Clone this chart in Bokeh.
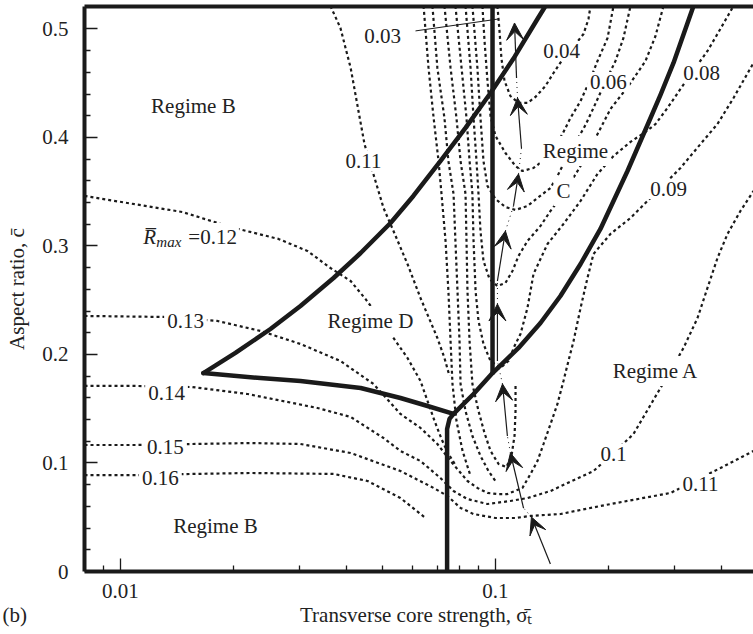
from bokeh.plotting import figure
from bokeh.models import (FixedTicker, LogAxis, Label, Arrow, VeeHead, Title,
                          ColumnDataSource, CustomJSTickFormatter)
from bokeh.embed import file_html
from bokeh.resources import INLINE

# ---------------- axes ----------------
x_start, x_end = 0.00802, 0.4875
y_start, y_end = 0.0, 0.5207
x_major = [0.01, 0.1]
x_minor = [0.009, 0.02, 0.03, 0.04, 0.05, 0.06, 0.07, 0.08, 0.09, 0.2, 0.3, 0.4]
y_major = [0.0, 0.1, 0.2, 0.3, 0.4, 0.5]
y_minor = [0.02, 0.04, 0.06, 0.08, 0.12, 0.14, 0.16, 0.18, 0.22, 0.24, 0.26, 0.28,
           0.32, 0.34, 0.36, 0.38, 0.42, 0.44, 0.46, 0.48]

# ---------------- regime boundaries (thick) ----------------
upper_x = [0.01664, 0.02026, 0.02512, 0.0302, 0.0370, 0.0437, 0.0525, 0.0604, 0.0713, 0.0832, 0.0970, 0.1124, 0.1294, 0.1359]
upper_y = [0.1829, 0.2014, 0.2235, 0.2447, 0.2705, 0.2935, 0.3212, 0.3461, 0.3783, 0.4088, 0.4410, 0.4742, 0.5092, 0.5212]
lower_x = [0.01664, 0.0236, 0.0302, 0.0437, 0.0558, 0.0659, 0.0773]
lower_y = [0.1829, 0.1783, 0.1756, 0.1691, 0.1599, 0.1525, 0.1452]
stem_x = [0.0743, 0.0743, 0.0754, 0.0773]
stem_y = [0.0, 0.1313, 0.1406, 0.1452]
right_x = [0.0773, 0.0874, 0.0982, 0.1152, 0.1318, 0.1490, 0.1686, 0.1905, 0.2249, 0.2543, 0.2754, 0.2983, 0.3373]
right_y = [0.1452, 0.1636, 0.1829, 0.2060, 0.2290, 0.2539, 0.2834, 0.3157, 0.3691, 0.4115, 0.4392, 0.4687, 0.5212]
vert_x = [0.0982, 0.0982]
vert_y = [0.1829, 0.5212]

# ---------------- R_max contours (dotted) ----------------
c016_x = [0.00802, 0.0113, 0.0154, 0.0222, 0.0370, 0.0456, 0.0558, 0.0651]
c016_y = [0.0889, 0.0889, 0.0899, 0.0908, 0.0899, 0.0834, 0.0677, 0.0493]

c015_x = [0.00802, 0.0111, 0.0154, 0.0222, 0.0302, 0.0411, 0.0558, 0.0684, 0.0745, 0.0807, 0.0874, 0.1000,
          0.1131, 0.1240, 0.1491, 0.1905, 0.2929, 0.3981, 0.4875]
c015_y = [0.1166, 0.1166, 0.1175, 0.1184, 0.1175, 0.1092, 0.0926, 0.0770, 0.0696, 0.0585, 0.0530, 0.0493,
          0.0493, 0.0512, 0.0530, 0.0604, 0.0724, 0.0954, 0.1111]

c014_x = [0.00802, 0.01096, 0.01556, 0.02182, 0.03352, 0.0411, 0.0503, 0.0558, 0.0631, 0.0713, 0.0773, 0.0842,
          0.0952, 0.1096, 0.1217, 0.1402, 0.1825, 0.2064, 0.2333, 0.2704, 0.2929, 0.3172, 0.3457, 0.3675,
          0.3908, 0.4156, 0.4500, 0.4875]
c014_y = [0.1710, 0.1710, 0.1700, 0.1636, 0.1507, 0.1424, 0.1230, 0.1111, 0.1018, 0.0862, 0.0742, 0.0668,
          0.0622, 0.0650, 0.0677, 0.0742, 0.0926, 0.1092, 0.1267, 0.1645, 0.1848, 0.2060, 0.2336, 0.2613,
          0.2889, 0.3111, 0.3323, 0.3507]

c013_x = [0.00802, 0.01302, 0.01814, 0.02362, 0.0302, 0.0386, 0.0473, 0.0558, 0.0631, 0.0700, 0.0759, 0.0842,
          0.0895, 0.0952, 0.1012, 0.1076, 0.1180, 0.1240, 0.1294, 0.1343, 0.1402, 0.1463, 0.1518, 0.1565,
          0.1614, 0.1686, 0.1759, 0.1825, 0.2026, 0.2291, 0.2543, 0.3114, 0.3522, 0.3908, 0.4312, 0.4875]
c013_y = [0.2355, 0.2346, 0.2309, 0.2217, 0.2097, 0.1940, 0.1728, 0.1452, 0.1323, 0.1175, 0.1018, 0.0834,
          0.0770, 0.0724, 0.0714, 0.0714, 0.0770, 0.0899, 0.1018, 0.1175, 0.1359, 0.1544, 0.1756, 0.1940,
          0.2120, 0.2429, 0.2705, 0.2926, 0.3111, 0.3258, 0.3415, 0.3719, 0.3940, 0.4124, 0.4364, 0.4687]

c012_x = [0.00802, 0.01463, 0.01965, 0.02638, 0.03152, 0.03631, 0.0411, 0.0450, 0.04935, 0.05346, 0.05826,
          0.0631, 0.0659, 0.0688, 0.0718, 0.0749, 0.0782]
c012_y = [0.3461, 0.3313, 0.3175, 0.3065, 0.2954, 0.2797, 0.2677, 0.2512, 0.2327, 0.2152, 0.1968,
          0.1756, 0.1571, 0.1387, 0.1221, 0.1083, 0.0982]

c011_x = [0.03631, 0.0386, 0.0411, 0.04312, 0.04474, 0.04786, 0.0503, 0.05346, 0.05826, 0.0631, 0.0700, 0.0731, 0.0754]
c011_y = [0.5212, 0.5009, 0.4641, 0.4244, 0.3940, 0.3599, 0.3350, 0.3138, 0.2834, 0.2521, 0.2152, 0.1968, 0.1802]

b1_x = [0.0643, 0.0663, 0.0684, 0.0705, 0.0718, 0.0736, 0.0749, 0.0759, 0.0768, 0.0787, 0.0817, 0.0858]
b1_y = [0.5212, 0.4641, 0.4180, 0.3783, 0.3479, 0.3046, 0.2585, 0.2120, 0.1728, 0.1387, 0.1111, 0.0880]

b2_x = [0.0679, 0.0700, 0.0731, 0.0749, 0.0773, 0.0782, 0.0792, 0.0802, 0.0807, 0.0832, 0.0868, 0.0912, 0.0958, 0.1000]
b2_y = [0.5212, 0.4641, 0.4180, 0.3783, 0.3479, 0.3046, 0.2585, 0.2120, 0.1728, 0.1479, 0.1249, 0.1065, 0.0926, 0.0834]

b3_x = [0.0731, 0.0759, 0.0787, 0.0807, 0.0832, 0.0837, 0.0842, 0.0853, 0.0868, 0.0901, 0.0935, 0.0970,
        0.1019, 0.1070, 0.1103, 0.1124, 0.1131, 0.1131]
b3_y = [0.5212, 0.4641, 0.4180, 0.3783, 0.3479, 0.3046, 0.2585, 0.2120, 0.1728, 0.1479, 0.1276, 0.1111,
        0.0991, 0.0963, 0.1065, 0.1249, 0.1479, 0.1710]

b4_x = [0.0782, 0.0812, 0.0837, 0.0853, 0.0868, 0.0874, 0.0885, 0.0901, 0.0929, 0.0970, 0.1031, 0.1083,
        0.1124, 0.1166, 0.1217, 0.1263, 0.1376, 0.1518, 0.1686, 0.1871, 0.2064, 0.2291, 0.2512, 0.2671,
        0.2875, 0.3114, 0.3394, 0.3675, 0.3908, 0.4312]
b4_y = [0.5212, 0.4641, 0.4180, 0.3783, 0.3479, 0.3046, 0.2585, 0.2309, 0.2097, 0.1940, 0.1876, 0.1940,
        0.2078, 0.2189, 0.2429, 0.2742, 0.3018, 0.3203, 0.3415, 0.3664, 0.3829, 0.3959, 0.4051, 0.4124,
        0.4272, 0.4447, 0.4631, 0.4797, 0.4954, 0.5212]

b5_x = [0.0832, 0.0858, 0.0874, 0.0890, 0.0901, 0.0912, 0.0929, 0.0964, 0.1012, 0.1063, 0.1110, 0.1152,
        0.1217, 0.1318, 0.1402, 0.1537, 0.1686, 0.1848, 0.2026, 0.2263, 0.2512, 0.2671, 0.2805]
b5_y = [0.5212, 0.4641, 0.4180, 0.3783, 0.3479, 0.3138, 0.2862, 0.2696, 0.2631, 0.2659, 0.2770, 0.2908,
        0.3046, 0.3184, 0.3323, 0.3507, 0.3737, 0.3995, 0.4263, 0.4475, 0.4705, 0.4935, 0.5212]

b6_x = [0.0868, 0.0895, 0.0912, 0.0929, 0.0952, 0.1000, 0.1063, 0.1131, 0.1217, 0.1294, 0.1402, 0.1472,
        0.1556, 0.1655, 0.1738, 0.1825, 0.1941, 0.2089, 0.2194, 0.2291]
b6_y = [0.5212, 0.4641, 0.4180, 0.3783, 0.3553, 0.3433, 0.3359, 0.3332, 0.3369, 0.3442, 0.3535, 0.3664,
        0.3829, 0.3986, 0.4115, 0.4272, 0.4475, 0.4705, 0.4917, 0.5212]

b7_x = [0.0923, 0.0935, 0.0952, 0.0970, 0.1000, 0.1063, 0.1131, 0.1180, 0.1263, 0.1359, 0.1428, 0.1509,
        0.1585, 0.1686, 0.1792, 0.1871, 0.1990, 0.2064]
b7_y = [0.5212, 0.4889, 0.4521, 0.4198, 0.4014, 0.3857, 0.3737, 0.3691, 0.3719, 0.3802, 0.3894, 0.4032,
        0.4180, 0.4336, 0.4539, 0.4705, 0.4917, 0.5212]

c004_x = [0.1012, 0.1025, 0.1037, 0.1057, 0.1096, 0.1152, 0.1217, 0.1278, 0.1359, 0.1428, 0.1500, 0.1565,
          0.1644, 0.1717, 0.1770, 0.1792]
c004_y = [0.5212, 0.4982, 0.4733, 0.4521, 0.4382, 0.4318, 0.4318, 0.4373, 0.4475, 0.4594, 0.4705, 0.4797,
          0.4871, 0.4954, 0.5092, 0.5212]

leader_x = [0.0612, 0.1019]
leader_y = [0.4982, 0.5092]

# ---------------- path arrows ----------------
arrow_x0 = [0.1401, 0.1188, 0.1076, 0.1012, 0.1012, 0.1117, 0.1173, 0.1138]
arrow_y0 = [0.0069, 0.0585, 0.1249, 0.1940, 0.2677, 0.3369, 0.3903, 0.4548]
arrow_x1 = [0.1247, 0.1096, 0.1044, 0.1012, 0.1063, 0.1152, 0.1145, 0.1124]
arrow_y1 = [0.0502, 0.1092, 0.1728, 0.2465, 0.3138, 0.3664, 0.4364, 0.5055]

# ---------------- text labels ----------------
label_text = ["Regime B", "Regime B", "Regime D", "Regime A", "Regime", "C",
              "0.03", "0.04", "0.06", "0.08", "0.09", "0.1", "0.11", "0.11",
              "0.13", "0.14", "0.15", "0.16"]
label_x = [0.01565, 0.01792, 0.04642, 0.2672, 0.1634, 0.1518,
           0.0500, 0.1500, 0.2001, 0.3543, 0.2893, 0.2064, 0.3522, 0.04446,
           0.01491, 0.01327, 0.01318, 0.01278]
label_y = [0.4290, 0.0419, 0.2309, 0.1848, 0.3876, 0.3507,
           0.4935, 0.4797, 0.4512, 0.4594, 0.3525, 0.1083, 0.0806, 0.3783,
           0.2309, 0.1645, 0.1147, 0.0862]
rmax_x, rmax_y = 0.01151, 0.3083
x_title = "Transverse core strength, \u03c3\u0304\u209c"
y_title = "Aspect ratio, c\u0304"
panel_tag = "(b)"

FONT = "Liberation Serif"
INK = "#1a1a1a"
TXT = "#222222"

p = figure(width=753, height=634, x_axis_type="log",
           x_range=(x_start, x_end), y_range=(y_start, y_end),
           output_backend="svg", toolbar_location=None,
           min_border_left=84, min_border_right=0, min_border_top=6, min_border_bottom=63)
p.outline_line_color = None
p.grid.visible = False
p.background_fill_color = "white"
p.border_fill_color = "white"

xax = p.below[0]
yax = p.left[0]
fmt = CustomJSTickFormatter(code="return String(Number(tick.toFixed(3)));")
for ax in (xax, yax):
    ax.axis_line_width = 4
    ax.axis_line_color = INK
    ax.major_tick_in = 13
    ax.major_tick_out = 0
    ax.minor_tick_in = 6
    ax.minor_tick_out = 0
    ax.major_tick_line_color = INK
    ax.minor_tick_line_color = INK
    ax.major_tick_line_width = 1.3
    ax.minor_tick_line_width = 1.3
    ax.major_label_text_font = FONT
    ax.major_label_text_font_size = "21px"
    ax.major_label_text_color = TXT
    ax.axis_label_text_font = FONT
    ax.axis_label_text_font_size = "21px"
    ax.axis_label_text_font_style = "normal"
    ax.axis_label_text_color = TXT
    ax.formatter = fmt

xax.ticker = FixedTicker(ticks=x_major, minor_ticks=x_minor)
yax.ticker = FixedTicker(ticks=y_major, minor_ticks=y_minor)
yax.axis_label = y_title
xax.major_label_standoff = 12
yax.major_label_standoff = 16
yax.axis_label_standoff = 10

# x title line (with the panel tag at the far left), drawn below the tick labels
nb = "\u00a0"
p.add_layout(Title(text=panel_tag + nb * 52 + x_title, align="left", offset=-82, standoff=0,
                   text_font=FONT, text_font_size="21px", text_font_style="normal",
                   text_color=TXT), "below")

top = LogAxis(ticker=FixedTicker(ticks=[]), axis_line_width=4, axis_line_color=INK,
              major_tick_in=0, major_tick_out=0, minor_tick_in=0, minor_tick_out=0,
              major_label_standoff=0, major_label_text_font_size="0px")
p.add_layout(top, "above")

# dotted contours
for xs, ys in [(c016_x, c016_y), (c015_x, c015_y), (c014_x, c014_y), (c013_x, c013_y),
               (c012_x, c012_y), (c011_x, c011_y), (b1_x, b1_y), (b2_x, b2_y), (b3_x, b3_y),
               (b4_x, b4_y), (b5_x, b5_y), (b6_x, b6_y), (b7_x, b7_y), (c004_x, c004_y)]:
    p.line(xs, ys, line_color=INK, line_width=2.2, line_dash="3 3")

# thick boundaries
for xs, ys in [(upper_x, upper_y), (lower_x, lower_y), (stem_x, stem_y),
               (right_x, right_y), (vert_x, vert_y)]:
    p.line(xs, ys, line_color=INK, line_width=4.5, line_join="round", line_cap="round")

p.line(leader_x, leader_y, line_color=INK, line_width=1)

# dash-dot links between successive arrows
gap_xs = [[arrow_x1[i], arrow_x0[i + 1]] for i in range(len(arrow_x0) - 1)]
gap_ys = [[arrow_y1[i], arrow_y0[i + 1]] for i in range(len(arrow_y0) - 1)]
p.multi_line(gap_xs, gap_ys, line_color=INK, line_width=1, line_dash="1 4")

src = ColumnDataSource(dict(x0=arrow_x0, y0=arrow_y0, x1=arrow_x1, y1=arrow_y1))
p.add_layout(Arrow(end=VeeHead(size=17, fill_color=INK, line_color=INK, line_width=1),
                   x_start="x0", y_start="y0", x_end="x1", y_end="y1", source=src,
                   line_color=INK, line_width=1.2))

for t, lx, ly in zip(label_text, label_x, label_y):
    p.add_layout(Label(x=lx, y=ly, text=t, text_align="center", text_baseline="middle",
                       text_font=FONT, text_font_size="21px", text_color=TXT,
                       background_fill_color="white", padding=3))

# R_max = 0.12 composite label
p.add_layout(Label(x=rmax_x, y=rmax_y, text="R\u0305", text_font=FONT, text_font_style="italic",
                   text_font_size="21px", text_color=TXT, text_baseline="alphabetic"))
p.add_layout(Label(x=rmax_x, y=rmax_y, x_offset=13, y_offset=-5, text="max", text_font=FONT,
                   text_font_style="italic", text_font_size="15px", text_color=TXT,
                   text_baseline="alphabetic"))
p.add_layout(Label(x=rmax_x, y=rmax_y, x_offset=43, text="=0.12", text_font=FONT,
                   text_font_size="21px", text_color=TXT, text_baseline="alphabetic",
                   background_fill_color="white", padding=2))

open("out.html", "w").write(file_html(p, INLINE))
